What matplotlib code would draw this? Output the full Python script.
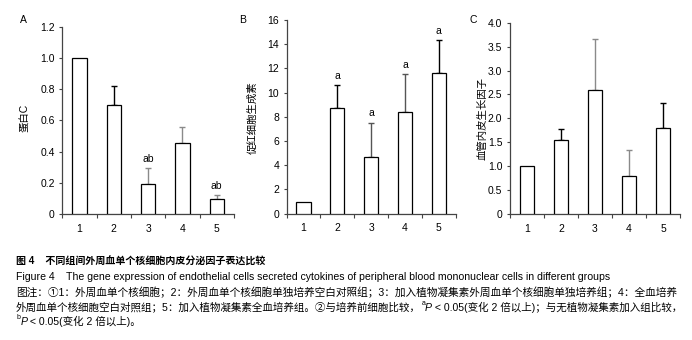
import numpy as np
import matplotlib
matplotlib.use('Agg')
import matplotlib.pyplot as plt

plt.rcParams['font.family'] = ['Liberation Sans', 'Noto Sans CJK SC', 'DejaVu Sans']

# Data
#==========================================================
groups   = ['1', '2', '3', '4', '5']

protc     = [1.0, 0.70, 0.19, 0.455, 0.095]
protc_err = [0.0, 0.12, 0.105, 0.10, 0.025]
protc_sig = ['', '', 'ab', '', 'ab']

epo      = [0.96, 8.7, 4.68, 8.37, 11.6]
epo_err  = [0.0, 1.93, 2.84, 3.17, 2.75]
epo_sig  = ['', 'a', 'a', 'a', 'a']

vegf     = [1.0, 1.54, 2.60, 0.79, 1.81]
vegf_err = [0.0, 0.23, 1.05, 0.56, 0.52]
vegf_sig = ['', '', '', '', '']

panels = [
    # letter, ylabel, values, errors, marks, ymax, ystep, tick format, axes rect, err colours
    ('A', u'蛋白C', protc, protc_err, protc_sig, 1.2, 0.2, '{:.1f}',
     [0.090, 0.370, 0.248, 0.552], ['k', 'k', '#8a8a8a', '#8a8a8a', '#8a8a8a']),
    ('B', u'促红细胞生成素', epo, epo_err, epo_sig, 16, 2, '{:.0f}',
     [0.4143, 0.3715, 0.2442, 0.5697], ['k', 'k', '#555555', '#555555', 'k']),
    ('C', u'血管内皮生长因子', vegf, vegf_err, vegf_sig, 4.0, 0.5, '{:.1f}',
     [0.737, 0.370, 0.2457, 0.5635], ['k', 'k', '#8a8a8a', '#8a8a8a', 'k']),
]
letter_x = [23, 243, 473]
ylab_x   = [25, 253, 483]

# Plot
#==========================================================
W, H = 692, 340
fig = plt.figure(figsize=(W/100., H/100.), dpi=100)
x = np.arange(1, len(groups)+1)

for i, (letter, ylab, vals, errs, sig, ymax, ystep, fmt, rect, ecol) in enumerate(panels):
    ax = fig.add_axes(rect)
    ax.bar(x, vals, width=0.42, color='white', edgecolor='k', linewidth=0.9, zorder=3)
    for j in range(len(vals)):
        if errs[j] > 0:
            ax.errorbar(x[j], vals[j], yerr=[[0], [errs[j]]], fmt='none',
                        ecolor=ecol[j], elinewidth=1.0, capsize=2.5, capthick=1.0, zorder=2)
        if sig[j]:
            ax.annotate(sig[j], (x[j], vals[j]+errs[j]), xytext=(0, 3),
                        textcoords='offset points', ha='center', va='bottom', fontsize=7.5)
    ax.set_xlim(0.5, len(groups)+0.5)
    ax.set_ylim(0, ymax)
    yt = np.arange(0, ymax+ystep/2., ystep)
    ax.set_yticks(yt)
    ax.set_yticklabels(['0'] + [fmt.format(v) for v in yt[1:]])
    ax.set_xticks(x)
    ax.set_xticklabels(groups)
    ax.set_xticks(np.arange(0.5, len(groups)+1, 1), minor=True)
    ax.tick_params(axis='x', which='major', length=0, pad=7, labelsize=7.5)
    ax.tick_params(axis='x', which='minor', length=3, width=0.8, direction='out', color='#444444')
    ax.tick_params(axis='y', length=2.5, width=0.8, direction='out', color='#444444', labelsize=7.5, pad=3)
    for s in ['top', 'right']:
        ax.spines[s].set_visible(False)
    for s in ['left', 'bottom']:
        ax.spines[s].set_color('#444444')
        ax.spines[s].set_linewidth(0.9)
    fig.text(letter_x[i]/float(W), 1-20/float(H), letter, fontsize=7.5, ha='center', va='center')
    fig.text(ylab_x[i]/float(W), 1-118/float(H), ylab, fontsize=7.5, rotation=90,
             ha='center', va='center')

# Caption
#==========================================================
fs = 7.6
fig.text(16/float(W), 1-262/float(H), u'图 4    不同组间外周血单个核细胞内皮分泌因子表达比较',
         fontsize=7.2, fontweight='bold', va='center')
fig.text(16/float(W), 1-277/float(H),
         'Figure 4    The gene expression of endothelial cells secreted cytokines of peripheral blood mononuclear cells in different groups',
         fontsize=7.6, va='center')
fig.text(16/float(W), 1-292/float(H),
         u'图注：①1：外周血单个核细胞；2：外周血单个核细胞单独培养空白对照组；3：加入植物凝集素外周血单个核细胞单独培养组；4：全血培养',
         fontsize=7.7, va='center')

def chain_text(pieces, y):
    '''
    Draw one caption line piece by piece (superscript letter, italic P)
    '''
    t = fig.text(16/float(W), 1-y/float(H), pieces[0][0], fontsize=fs, va='baseline')
    after_sup = False
    for txt, kind in pieces[1:]:
        if kind == 'sup':
            t = plt.annotate(txt, xy=(1, 0), xycoords=t, xytext=(0.3, 4.5),
                             textcoords='offset points', fontsize=5, va='bottom', ha='left',
                             annotation_clip=False)
        else:
            off = (0, -4.5) if after_sup else (0, 0)
            t = plt.annotate(txt, xy=(1, 0), xycoords=t, xytext=off,
                             textcoords='offset points', fontsize=fs,
                             style='italic' if kind == 'it' else 'normal',
                             va='bottom', ha='left', annotation_clip=False)
        after_sup = (kind == 'sup')
    return t

line4 = [(u'外周血单个核细胞空白对照组；5：加入植物凝集素全血培养组。②与培养前细胞比较，', 'n'),
         ('a', 'sup'), ('P', 'it'),
         (u' < 0.05(变化 2 倍以上)；与无植物凝集素加入组比较，', 'n')]
line5 = [('', 'n'), ('b', 'sup'), ('P', 'it'), (u' < 0.05(变化 2 倍以上)。', 'n')]
chain_text(line4, 311)
chain_text(line5, 327)

fig.savefig('out.png', dpi=100)
